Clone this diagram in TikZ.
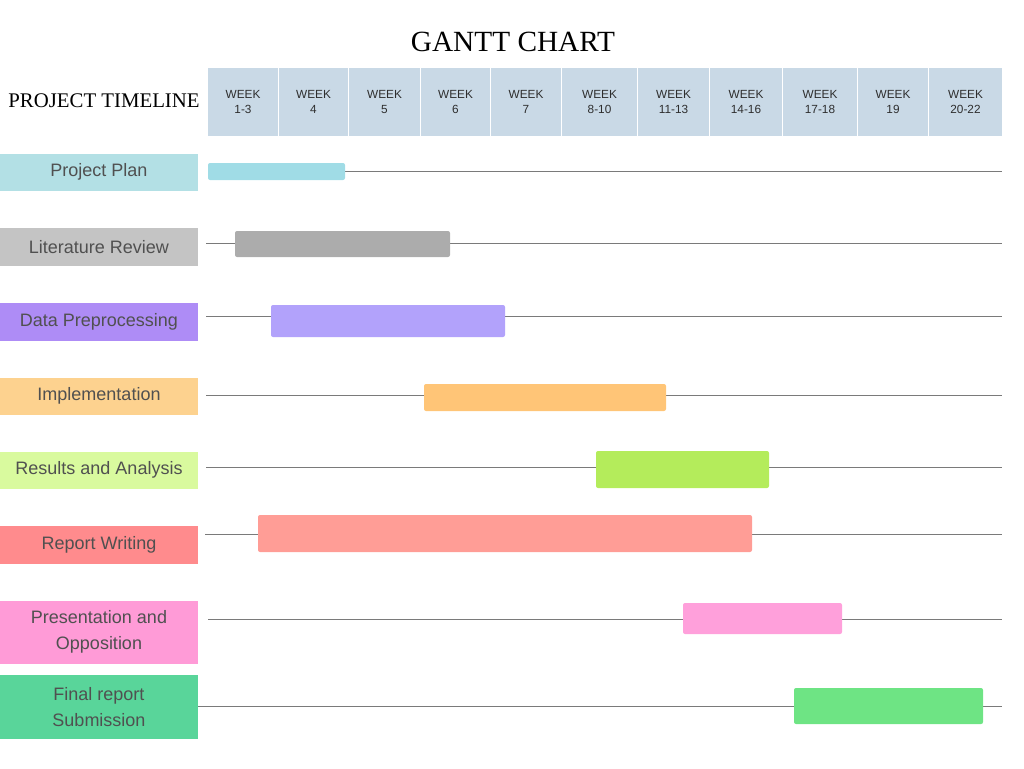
\documentclass[tikz,border=0pt]{standalone}
\usepackage{fontspec}
\setmainfont{Liberation Serif}
\setsansfont{Liberation Sans}
\usepackage{tikz}
\definecolor{headBg}{HTML}{C9D9E6}
\definecolor{headTx}{HTML}{2E2E2E}
\definecolor{rowLn}{HTML}{7A7A7A}
\definecolor{labTx}{HTML}{505050}
\definecolor{planL}{HTML}{B3E0E5}
\definecolor{planB}{HTML}{A0DCE6}
\definecolor{litL}{HTML}{C4C4C4}
\definecolor{litB}{HTML}{ACACAC}
\definecolor{dataL}{HTML}{AE8CF6}
\definecolor{dataB}{HTML}{B2A2FB}
\definecolor{implL}{HTML}{FDD28F}
\definecolor{implB}{HTML}{FFC577}
\definecolor{resL}{HTML}{D9FA9E}
\definecolor{resB}{HTML}{B4EC5B}
\definecolor{repL}{HTML}{FF8B8D}
\definecolor{repB}{HTML}{FF9D96}
\definecolor{presL}{HTML}{FF9BD7}
\definecolor{presB}{HTML}{FFA0DB}
\definecolor{finL}{HTML}{59D59A}
\definecolor{finB}{HTML}{6EE484}

\begin{document}
\begin{tikzpicture}[x=1pt, y=-1pt,
  wkcell/.style={fill=headBg, inner sep=0pt, minimum height=68pt, align=center,
    text=headTx, font=\sffamily\fontsize{11.8}{15}\selectfont},
  tasklab/.style={inner sep=0pt, minimum width=198pt, align=center,
    text=labTx, font=\sffamily\fontsize{18}{26}\selectfont},
  taskbar/.style={inner sep=0pt, rounded corners=2pt},
  rowline/.style={draw=rowLn, line width=1pt}]
  \useasboundingbox (0,0) rectangle (1024,768);

  \node[font=\fontsize{29.3}{34}\selectfont] (title) at (513,42) {GANTT CHART};
  \node[font=\fontsize{20.8}{24}\selectfont] (timeline) at (104,101) {PROJECT TIMELINE};

  % week header cells
  \foreach \a/\b/\lab [count=\i] in {
    208/278/1-3,
    279/348/4,
    349/420/5,
    421/490/6,
    491/561/7,
    562/637/8-10,
    638/709/11-13,
    710/782/14-16,
    783/857/17-18,
    858/928/19,
    929/1002/20-22}{
    \node[wkcell, minimum width={(\b-\a)*1pt}] (wk\i) at ({(\a+\b)/2},102) {WEEK\\\lab};
  }

  % task labels on the left
  \foreach \n/\y/\h/\c/\txt in {
    1/171.5/37/planL/{Project Plan},
    2/246/38/litL/{Literature Review},
    3/321/38/dataL/{Data Preprocessing},
    4/395.5/37/implL/{Implementation},
    5/469.5/37/resL/{Results and Analysis},
    6/544/38/repL/{Report Writing},
    7/631.5/63/presL/{Presentation and\\Opposition},
    8/706/64/finL/{Final report\\Submission}}{
    \node[tasklab, fill=\c, minimum height=\h pt] (lab\n) at (99,\y+0.8) {\txt};
  }

  % row lines, then the bars over them
  \foreach \n/\ly/\ls/\xa/\xb/\ya/\yb/\c in {
    1/171/208/208/345/163/180/planB,
    2/243/206/235/450/231/257/litB,
    3/316/206/271/505/305/337/dataB,
    4/395/206/424/666/384/411/implB,
    5/467/206/596/769/451/488/resB,
    6/534/205/258/752/515/552/repB,
    7/619/208/683/842/603/634/presB,
    8/706/198/794/983/688/724/finB}{
    \coordinate (ls\n) at (\ls,\ly);
    \coordinate (le\n) at (1002,\ly);
    \draw[rowline] (ls\n) -- (le\n);
    \node[taskbar, fill=\c, minimum width={(\xb-\xa)*1pt}, minimum height={(\yb-\ya)*1pt}]
      (bar\n) at ({(\xa+\xb)/2},{(\ya+\yb)/2}) {};
  }
\end{tikzpicture}
\end{document}
